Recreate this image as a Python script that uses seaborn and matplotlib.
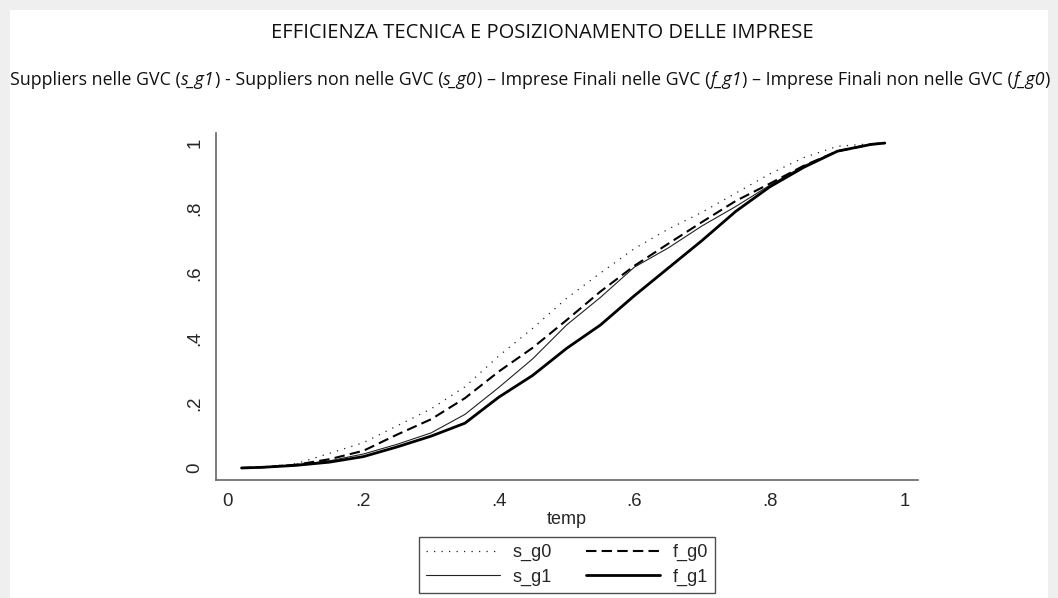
import pandas as pd
import matplotlib.pyplot as plt
import matplotlib.patches as mpatches
import seaborn as sns

# efficienza tecnica (temp) e funzione di ripartizione per gruppo
temp = [0.02, 0.05, 0.10, 0.15, 0.20, 0.25, 0.30, 0.35, 0.40, 0.45, 0.50,
        0.55, 0.60, 0.65, 0.70, 0.75, 0.80, 0.85, 0.90, 0.95, 0.97]
s_g0 = [0.0, 0.003, 0.013, 0.045, 0.078, 0.13, 0.182, 0.25, 0.345, 0.43, 0.522,
        0.60, 0.675, 0.735, 0.787, 0.846, 0.905, 0.955, 0.99, 0.998, 1.0]
f_g0 = [0.0, 0.002, 0.010, 0.027, 0.053, 0.103, 0.15, 0.215, 0.297, 0.37, 0.455,
        0.543, 0.622, 0.69, 0.757, 0.822, 0.875, 0.93, 0.975, 0.996, 1.0]
s_g1 = [0.0, 0.002, 0.010, 0.022, 0.043, 0.073, 0.108, 0.165, 0.248, 0.336, 0.44,
        0.525, 0.618, 0.677, 0.745, 0.805, 0.87, 0.93, 0.975, 0.996, 1.0]
f_g1 = [0.0, 0.002, 0.008, 0.018, 0.035, 0.065, 0.098, 0.138, 0.218, 0.285, 0.368,
        0.44, 0.53, 0.615, 0.70, 0.79, 0.865, 0.925, 0.975, 0.996, 1.0]

groups = ['s_g0', 's_g1', 'f_g0', 'f_g1']
tick_vals = [0, 0.2, 0.4, 0.6, 0.8, 1]
tick_labels = ['0', '.2', '.4', '.6', '.8', '1']

title = 'EFFICIENZA TECNICA E POSIZIONAMENTO DELLE IMPRESE'
# (testo, corsivo?)
subtitle_parts = [
    ('Suppliers nelle GVC (', False), ('s_g1', True),
    (') - Suppliers non nelle GVC (', False), ('s_g0', True),
    (') – Imprese Finali nelle GVC (', False), ('f_g1', True),
    (') – Imprese Finali non nelle GVC (', False), ('f_g0', True),
    (')', False),
]

df = pd.DataFrame({
    'temp': temp * 4,
    'cdf': s_g0 + s_g1 + f_g0 + f_g1,
    'group': [g for g in groups for _ in temp],
})

sns.set_style('white')
plt.rcParams['font.family'] = ['Liberation Sans', 'DejaVu Sans']

styles = {
    's_g0': dict(lw=0.9, ls=(0, (1, 5)), color='#222222'),
    's_g1': dict(lw=0.8, ls='-', color='#222222'),
    'f_g0': dict(lw=1.5, ls=(0, (5, 2.5)), color='black'),
    'f_g1': dict(lw=2.0, ls='-', color='black'),
}

fig = plt.figure(figsize=(10.58, 5.98), dpi=100)
fig.patch.set_facecolor('#efefef')
fig.patches.append(mpatches.Rectangle((10 / 1058, 0), 1038 / 1058, 588 / 598,
                                      transform=fig.transFigure, facecolor='white',
                                      edgecolor='none', zorder=-10))

ax = fig.add_axes([216 / 1058, 1 - 480 / 598, 702 / 1058, 347 / 598])
ax.set_facecolor('white')

for g in groups:
    st = styles[g]
    sns.lineplot(data=df[df['group'] == g], x='temp', y='cdf', ax=ax, label=g,
                 color=st['color'], linewidth=st['lw'], linestyle=st['ls'])

ax.set_xlim(-0.0177, 1.019)
ax.set_ylim(-0.037, 1.031)
ax.set_xticks(tick_vals)
ax.set_xticklabels(tick_labels, fontsize=13.4)
ax.set_yticks(tick_vals)
ax.set_yticklabels(tick_labels, fontsize=13.4, rotation=90, va='center')
ax.tick_params(direction='out', length=4, width=1, color='#333333', pad=5)
ax.set_xlabel('temp', fontsize=13, labelpad=1)
ax.set_ylabel('')
for side in ['top', 'right']:
    ax.spines[side].set_visible(False)
for side in ['left', 'bottom']:
    ax.spines[side].set_color('#666666')
    ax.spines[side].set_linewidth(1.2)

handles, labels = ax.get_legend_handles_labels()
ax.get_legend().remove()
leg = fig.legend(handles, labels, ncol=2, loc='upper center',
                 bbox_to_anchor=(567 / 1058, 1 - 537 / 598), fontsize=13,
                 frameon=True, fancybox=False, edgecolor='#222222',
                 borderaxespad=0, handlelength=4.1, handletextpad=0.7,
                 columnspacing=1.9, borderpad=0.4, labelspacing=0.4)
leg.get_frame().set_linewidth(1.0)

fig.text(542 / 1058, 1 - 33 / 598, title, ha='center', va='center',
         fontsize=14.5, family='Open Sans', color='#111111')

# sottotitolo a pezzi (alcune parti in corsivo)
renderer = fig.canvas.get_renderer()
y_sub = 1 - 80 / 598
pieces = []
x = 0.0
for txt, it in subtitle_parts:
    t = fig.text(x, y_sub, txt, ha='left', va='center', fontsize=12.8,
                 family='Open Sans', style='italic' if it else 'normal',
                 color='#111111')
    w = t.get_window_extent(renderer).width / fig.bbox.width
    pieces.append((t, x))
    x += w
start = 530 / 1058 - x / 2
for t, x0 in pieces:
    t.set_x(start + x0)

fig.savefig('out.png', dpi=100, facecolor=fig.get_facecolor())
